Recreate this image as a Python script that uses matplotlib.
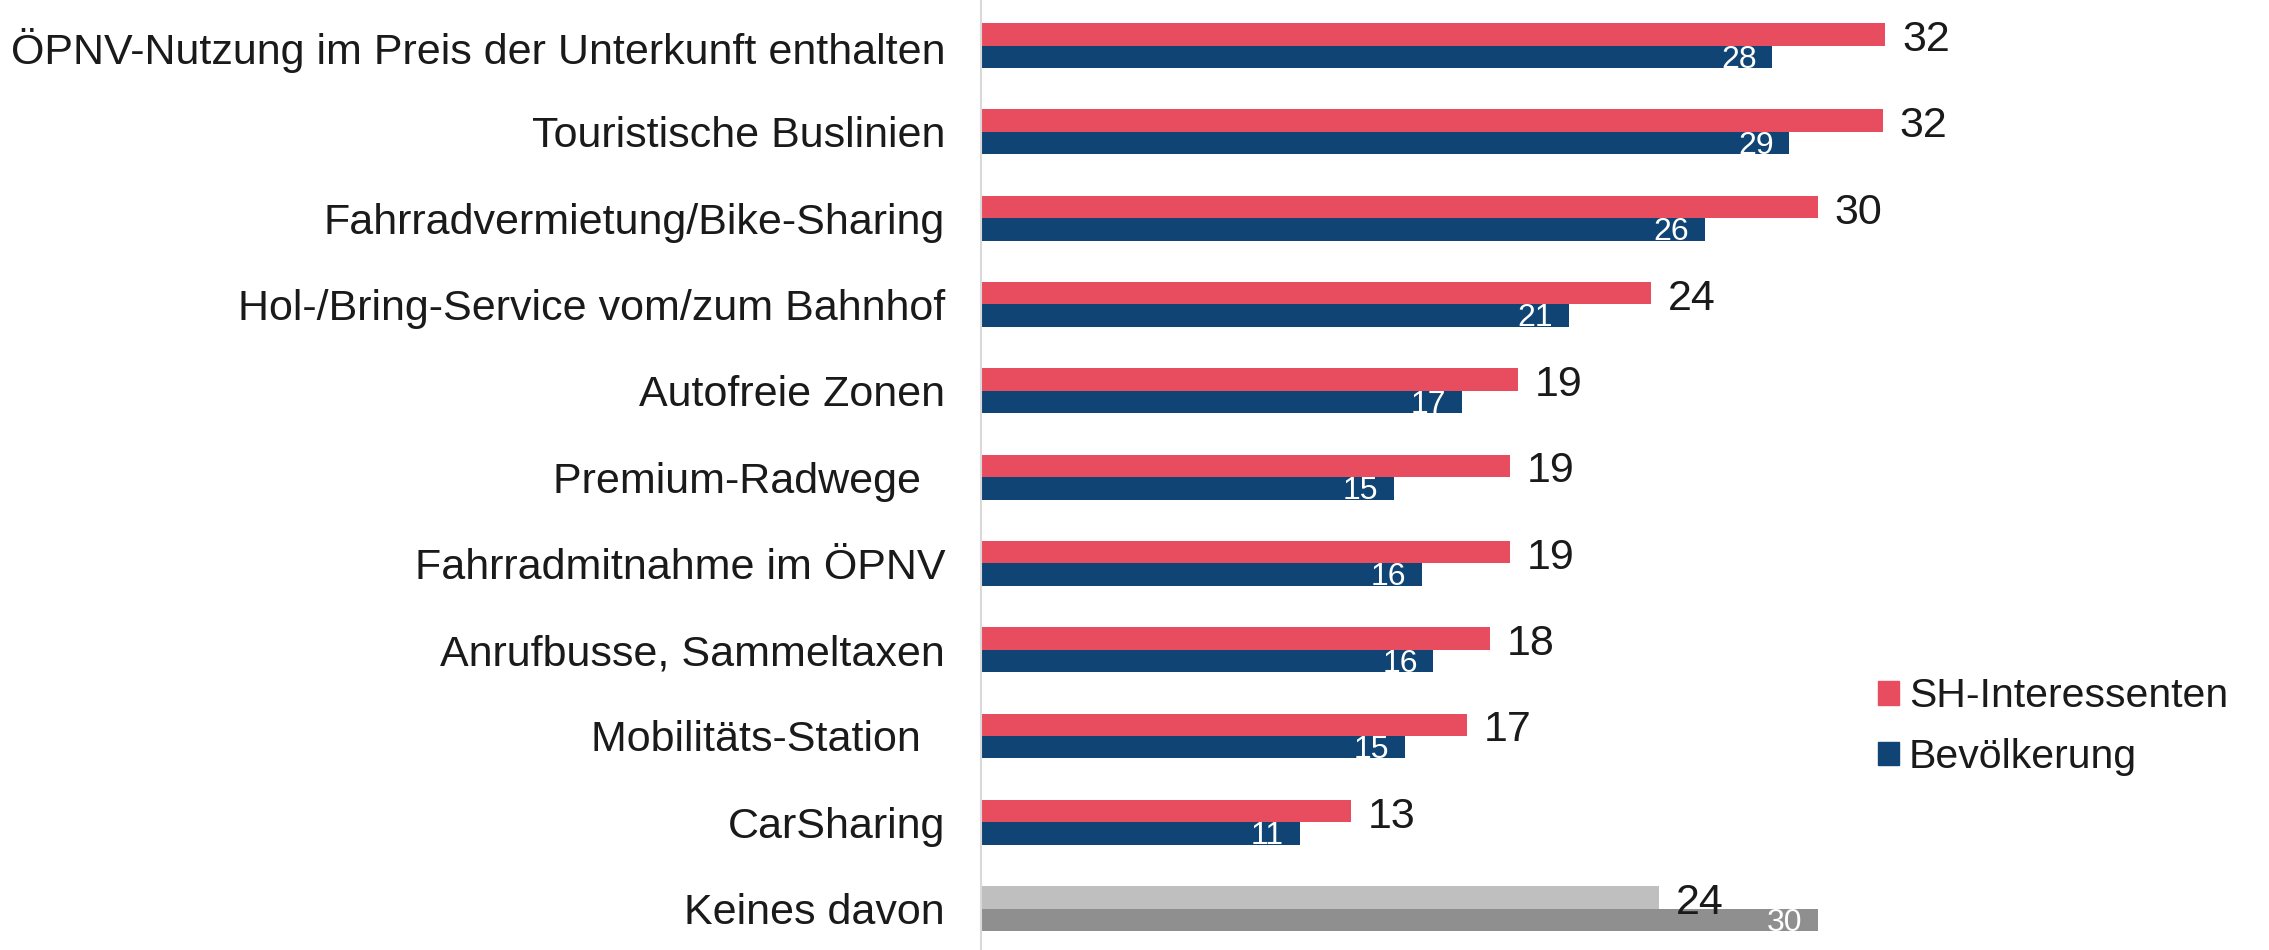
import matplotlib
matplotlib.use('Agg')
import matplotlib.pyplot as plt
from matplotlib.patches import Patch
import numpy as np

plt.rcParams['font.family'] = ['Liberation Sans', 'DejaVu Sans']

# ---------------- data ----------------
categories = [
    'ÖPNV-Nutzung im Preis der Unterkunft enthalten',
    'Touristische Buslinien',
    'Fahrradvermietung/Bike-Sharing',
    'Hol-/Bring-Service vom/zum Bahnhof',
    'Autofreie Zonen',
    'Premium-Radwege  ',
    'Fahrradmitnahme im ÖPNV',
    'Anrufbusse, Sammeltaxen',
    'Mobilitäts-Station  ',
    'CarSharing',
    'Keines davon',
]
sh_interessenten = [32.0, 31.9, 29.6, 23.7, 19.0, 18.7, 18.7, 18.0, 17.2, 13.1, 24.0]
bevoelkerung = [28.0, 28.6, 25.6, 20.8, 17.0, 14.6, 15.6, 16.0, 15.0, 11.3, 29.6]

red = '#e84c5f'
blue = '#0f4475'
grey_light = '#bfbfbf'
grey_dark = '#8f8f8f'

# ---------------- figure ----------------
fig = plt.figure(figsize=(22.69, 9.5), dpi=100)
ax = fig.add_axes([0.4324, 0.0, 0.5676, 1.0])

y = np.arange(len(categories))
h = 0.26
n = len(categories)
top_colors = [red] * (n - 1) + [grey_light]
bot_colors = [blue] * (n - 1) + [grey_dark]

ax.barh(y - h / 2, sh_interessenten, height=h, color=top_colors, label='SH-Interessenten')
ax.barh(y + h / 2, bevoelkerung, height=h, color=bot_colors, label='Bevölkerung')

for yi, v in zip(y, sh_interessenten):
    ax.annotate(f'{v:.0f}', (v, yi - h / 2), xytext=(12, -4), textcoords='offset points',
                ha='left', va='center', fontsize=31, color='#1a1a1a')
for yi, v in zip(y, bevoelkerung):
    ax.annotate(f'{v:.0f}', (v, yi + h / 2), xytext=(-24, -2), textcoords='offset points',
                ha='center', va='center', fontsize=23, color='white')

ax.set_xlim(0, 45.57)
ax.set_ylim(10.48, -0.528)
ax.set_yticks(y)
ax.set_yticklabels(categories, fontsize=31, color='#1a1a1a')
ax.tick_params(axis='y', length=0, pad=26)
ax.set_xticks([])
for s in ['top', 'right', 'bottom']:
    ax.spines[s].set_visible(False)
ax.spines['left'].set_color('#d9d9d9')
ax.spines['left'].set_linewidth(1.5)

handles = [Patch(color=red, label='SH-Interessenten'), Patch(color=blue, label='Bevölkerung')]
ax.legend(handles=handles, loc='center left', bbox_to_anchor=(0.668, 0.235), frameon=False,
          fontsize=29.5, handlelength=0.5, handleheight=0.5, handletextpad=0.25,
          labelspacing=0.55, labelcolor='#1a1a1a')

fig.savefig('out.png', dpi=100)
